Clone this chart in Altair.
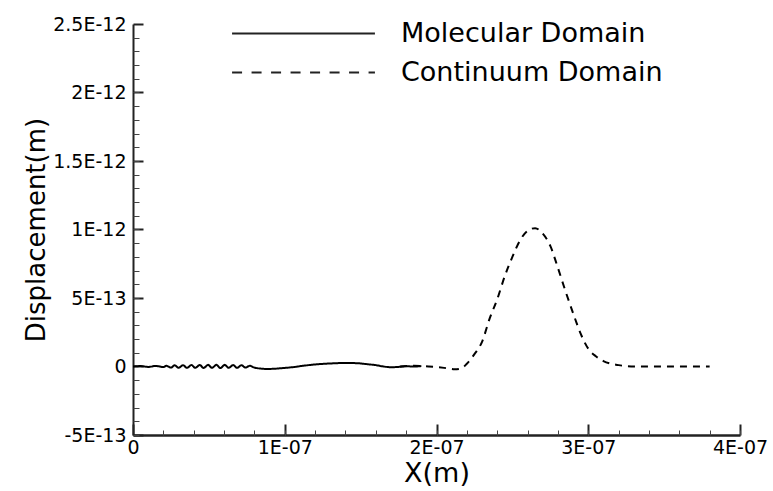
import altair as alt
import pandas as pd

# Molecular domain (x in 1E-07 m, y in 1E-14 m)
mol_x = [0, 0.05, 0.10, 0.15, 0.20, 0.22, 0.25, 0.275, 0.30, 0.33, 0.355, 0.385, 0.41, 0.44,
         0.465, 0.495, 0.52, 0.55, 0.575, 0.605, 0.63, 0.66, 0.685, 0.715, 0.74, 0.77, 0.80,
         0.84, 0.88, 0.92, 0.98, 1.05, 1.12, 1.20, 1.30, 1.40, 1.48, 1.55, 1.60, 1.65, 1.70,
         1.75, 1.80, 1.85, 1.90]
mol_y = [0, 0.3, -0.3, 0.4, -0.4, 0.5, -0.8, 0.9, -0.9, 1.0, -1.0, 1.1, -1.0, 1.1,
         -1.1, 1.2, -1.0, 1.2, -1.1, 1.2, -1.0, 1.1, -1.0, 1.0, -0.8, 0.5, -0.8,
         -1.5, -1.8, -1.7, -1.2, -0.5, 0.5, 1.5, 2.2, 2.6, 2.4, 1.6, 1.0, 0.0, -0.5,
         -0.3, 0.2, 0.0, 0.3]

# Continuum domain (x in 1E-07 m, y in 1E-12 m)
con_x = [1.76, 1.85, 1.95, 2.05, 2.12, 2.16, 2.20, 2.25, 2.30, 2.35, 2.40, 2.45, 2.50, 2.55,
         2.60, 2.65, 2.70, 2.75, 2.80, 2.85, 2.90, 2.95, 3.00, 3.05, 3.10, 3.15, 3.20, 3.25,
         3.30, 3.50, 3.80]
con_y = [0, 0.005, 0.0, -0.01, -0.02, -0.015, 0.02, 0.09, 0.18, 0.35, 0.49, 0.66, 0.80, 0.92,
         0.99, 1.01, 0.97, 0.88, 0.72, 0.55, 0.39, 0.24, 0.13, 0.075, 0.04, 0.02, 0.01, 0.003,
         0, 0, 0]

series_names = ["Molecular Domain", "Continuum Domain"]

x_major = [0, 1e-7, 2e-7, 3e-7, 4e-7]
x_major_labels = ["0", "1E-07", "2E-07", "3E-07", "4E-07"]
x_minor = [i * 2e-8 for i in range(21)]
y_major = [-5e-13, 0, 5e-13, 1e-12, 1.5e-12, 2e-12, 2.5e-12]
y_major_labels = ["-5E-13", "0", "5E-13", "1E-12", "1.5E-12", "2E-12", "2.5E-12"]
y_minor = [(i - 5) * 1e-13 for i in range(31)]

rows = []
for i, (a, b) in enumerate(zip(mol_x, mol_y)):
    rows.append({"x": a * 1e-7, "y": b * 1e-14, "series": series_names[0], "o": i})
for i, (a, b) in enumerate(zip(con_x, con_y)):
    rows.append({"x": a * 1e-7, "y": b * 1e-12, "series": series_names[1], "o": i})
df = pd.DataFrame(rows)

FONT = "DejaVu Sans"
W, H = 607, 411

xlab = "[" + ",".join("'%s'" % s for s in x_major_labels) + "][round(datum.value/1e-7)]"
ylab = "[" + ",".join("'%s'" % s for s in y_major_labels) + "][round(datum.value/5e-13)+1]"

xscale = alt.Scale(domain=[0, 4e-7], nice=False, zero=False)
yscale = alt.Scale(domain=[-5e-13, 2.5e-12], nice=False, zero=False)

# visible curves (with the main axes)
main = alt.Chart(df).mark_line(color="black", strokeWidth=2, interpolate="monotone").encode(
    x=alt.X("x:Q", scale=xscale, title="X(m)",
            axis=alt.Axis(orient="bottom", values=x_major, labelExpr=xlab, ticks=False, tickSize=0,
                          domainColor="#222222", domainWidth=2.5, labelFont=FONT, labelFontSize=19,
                          labelColor="black", labelPadding=3, labelFlush=False, labelOverlap=False,
                          grid=False, titleFont=FONT, titleFontSize=27, titleFontWeight="normal",
                          titleColor="black", titlePadding=3)),
    y=alt.Y("y:Q", scale=yscale, title="Displacement(m)",
            axis=alt.Axis(orient="left", values=y_major, labelExpr=ylab, ticks=False, tickSize=0,
                          domainColor="#222222", domainWidth=2, labelFont=FONT, labelFontSize=19,
                          labelColor="black", labelPadding=7, labelFlush=False, labelOverlap=False,
                          grid=False, titleFont=FONT, titleFontSize=26, titleFontWeight="normal",
                          titleColor="black", titlePadding=3)),
    strokeDash=alt.StrokeDash("series:N",
                              scale=alt.Scale(domain=series_names, range=[[1, 0], [7, 6]]),
                              legend=None),
    detail="series:N",
    order="o:Q",
)

# invisible copy that only carries the legend (longer dashes, as in the reference key)
legend_layer = alt.Chart(df).mark_line(opacity=0).encode(
    x=alt.X("x:Q", scale=xscale, axis=None),
    y=alt.Y("y:Q", scale=yscale, axis=None),
    strokeDash=alt.StrokeDash("series:N",
                              scale=alt.Scale(domain=series_names, range=[[1, 0], [10, 9.5]]),
                              legend=alt.Legend(title=None, orient="none", legendX=157, legendY=-4,
                                                symbolType="M-6,0H6", symbolSize=567,
                                                symbolStrokeWidth=2, symbolStrokeColor="#222222",
                                                symbolOpacity=1,
                                                labelFont=FONT, labelFontSize=27, labelColor="black",
                                                labelOffset=84, labelLimit=0, rowPadding=11)),
    detail="series:N",
)

major_ticks = alt.Chart(df).mark_line(opacity=0).encode(
    x=alt.X("x:Q", scale=xscale, title=None,
            axis=alt.Axis(orient="top", offset=-H, values=x_major, labels=False, domain=False,
                          grid=False, tickSize=11, tickWidth=2, tickColor="#222222")),
    y=alt.Y("y:Q", scale=yscale, title=None,
            axis=alt.Axis(orient="right", offset=-W, values=y_major, labels=False, domain=False,
                          grid=False, tickSize=10, tickWidth=2, tickColor="#222222")),
    detail="series:N",
)

minor_ticks = alt.Chart(df).mark_line(opacity=0).encode(
    x=alt.X("x:Q", scale=xscale, title=None,
            axis=alt.Axis(orient="top", offset=-H, values=x_minor, labels=False, domain=False,
                          grid=False, tickSize=5, tickWidth=1, tickColor="#444444")),
    y=alt.Y("y:Q", scale=yscale, title=None,
            axis=alt.Axis(orient="right", offset=-W, values=y_minor, labels=False, domain=False,
                          grid=False, tickSize=6, tickWidth=1, tickColor="#444444")),
    detail="series:N",
)

chart = alt.layer(main, legend_layer, major_ticks, minor_ticks).resolve_axis(
    x="independent", y="independent"
).resolve_scale(
    strokeDash="independent"
).properties(
    width=W, height=H,
    autosize=alt.AutoSizeParams(type="none"),
    padding={"left": 133, "top": 24, "right": 33, "bottom": 56},
    background="white",
).configure_view(stroke=None)

chart.save("out.html", embed_options={"renderer": "svg", "actions": False})
